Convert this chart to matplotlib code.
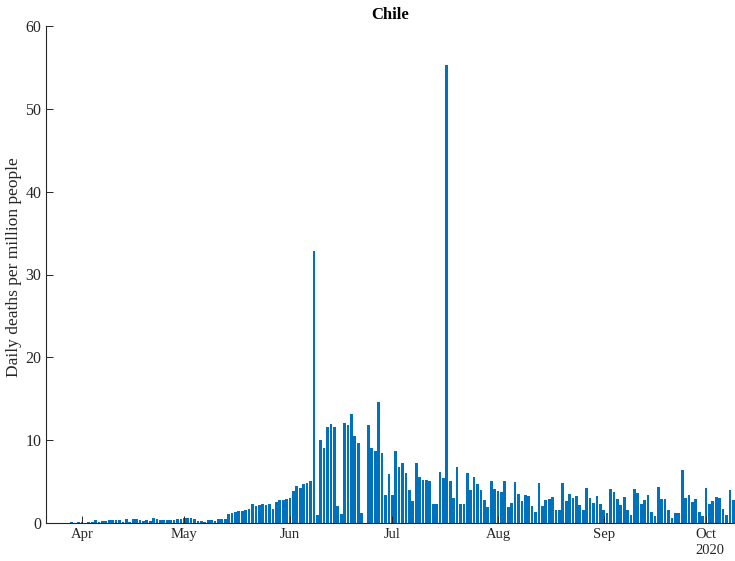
import matplotlib
matplotlib.use("Agg")
import matplotlib.pyplot as plt
import matplotlib.dates as mdates
import numpy as np
import pandas as pd

# daily deaths per million people, Chile 2020 (one list per month)
mar = [0.05, 0.0, 0.05, 0.05, 0.0, 0.05, 0.05, 0.1, 0.05, 0.1]  # from Mar 22
apr = [0.12, 0.04, 0.12, 0.16, 0.33, 0.16, 0.24, 0.2, 0.36, 0.36,
       0.36, 0.32, 0.08, 0.5, 0.1, 0.5, 0.52, 0.4, 0.3, 0.35,
       0.3, 0.6, 0.45, 0.38, 0.38, 0.4, 0.4, 0.42, 0.5, 0.5]
may = [0.55, 0.55, 0.6, 0.45, 0.2, 0.25, 0.15, 0.4, 0.4, 0.3,
       0.5, 0.5, 0.5, 1.1, 1.25, 1.33, 1.45, 1.4, 1.57, 1.73,
       2.3, 2.05, 2.17, 2.3, 2.17, 2.3, 1.75, 2.5, 2.77, 2.72, 2.95]
jun = [3.03, 3.9, 4.5, 4.2, 4.75, 4.8, 5.03, 32.8, 0.93, 10.0,
       9.0, 11.6, 12.0, 11.55, 2.0, 1.05, 12.1, 11.8, 13.1, 10.5,
       9.6, 1.17, 0.05, 11.8, 9.0, 8.7, 14.6, 8.45, 3.4, 5.9]
jul = [3.35, 8.7, 6.8, 7.3, 6.0, 3.95, 2.6, 7.2, 5.6, 5.15,
       5.2, 5.07, 2.3, 2.3, 6.1, 5.4, 55.3, 5.1, 3.0, 6.76,
       2.25, 2.33, 6.0, 3.95, 5.5, 4.75, 3.95, 2.74, 1.93, 5.1, 4.12]
aug = [3.92, 3.8, 5.07, 1.93, 2.4, 5.0, 3.5, 2.7, 3.4, 3.2,
       2.0, 1.33, 4.83, 2.05, 2.78, 2.9, 3.1, 1.6, 1.57, 4.8,
       2.6, 3.5, 3.06, 3.26, 2.13, 1.6, 4.23, 3.06, 2.46, 3.2, 2.25]
sep = [1.6, 1.15, 4.05, 3.74, 2.94, 2.13, 3.1, 1.53, 1.0, 4.07,
       3.58, 2.33, 2.78, 3.34, 1.37, 0.89, 4.39, 2.94, 2.86, 1.6,
       0.56, 1.2, 1.25, 6.44, 2.98, 3.34, 2.58, 2.94, 1.33, 0.8]
oct_ = [4.19, 2.33, 2.7, 3.1, 2.98, 1.69, 1.0, 4.03, 2.74]

deaths = np.array(mar + apr + may + jun + jul + aug + sep + oct_)
dates = pd.date_range("2020-03-22", periods=len(deaths), freq="D")
month_ticks = pd.date_range("2020-04-01", "2020-10-01", freq="MS")

plt.rcParams["font.family"] = ["Liberation Serif", "DejaVu Serif"]
dark = "#262626"

fig = plt.figure(figsize=(7.35, 5.61), dpi=100)
ax = fig.add_axes([45.5 / 735, 38 / 561, (735 - 45.5) / 735, 497 / 561])

ax.bar(mdates.date2num(dates), deaths, width=0.8, color="#0072BD",
       edgecolor="none", linewidth=0)

x0 = mdates.date2num(pd.Timestamp("2020-04-01"))
ax.set_xlim(x0 - 10.7, x0 + 191.5)
ax.set_ylim(0, 60)
ax.set_yticks(np.arange(0, 61, 10))
ax.set_xticks(mdates.date2num(month_ticks))
ax.set_xticklabels([d.strftime("%b") for d in month_ticks])

for side in ["top", "right"]:
    ax.spines[side].set_visible(False)
for side in ["left", "bottom"]:
    ax.spines[side].set_color(dark)
    ax.spines[side].set_linewidth(0.8)

ax.tick_params(direction="in", length=5, width=0.7, colors=dark,
               labelsize=11.5, labelcolor=dark)
ax.tick_params(axis="x", pad=3.5, labelsize=10.5)
ax.tick_params(axis="y", pad=3)

ax.set_ylabel("Daily deaths per million people", fontsize=12.5, color=dark)
ax.yaxis.set_label_coords(-0.034, 0.514)
ax.set_title("Chile", fontweight="bold", fontsize=12, pad=5)

# year label under the last month
ax.annotate("2020", xy=(mdates.date2num(month_ticks[-1]), 0),
            xycoords=("data", "axes fraction"), xytext=(3, -15.3),
            textcoords="offset points", ha="center", va="top",
            fontsize=10.5, color=dark)

fig.savefig("out.png", dpi=100)
